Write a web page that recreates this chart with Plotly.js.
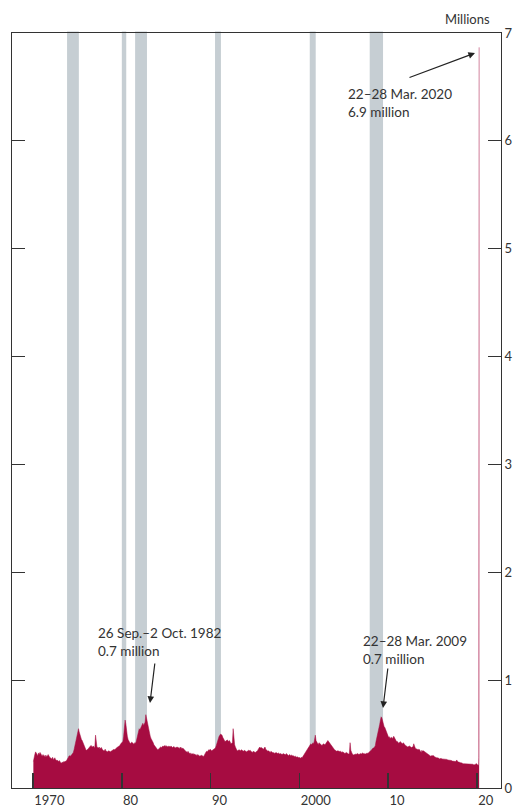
<!DOCTYPE html>
<html>
<head>
<meta charset="utf-8">
<script src="https://cdn.plot.ly/plotly-3.0.1.min.js"></script>
<style>
  html, body { margin: 0; padding: 0; background: #fff; }
  #chart { width: 523px; height: 808px; }
</style>
</head>
<body>
<div id="chart"></div>
<script>
// Weekly initial jobless claims, US (thousands, roughly monthly)
const startYear = 1970;
const claims1970s = [
  245, 300, 310, 335, 320, 315, 300, 325, 310, 330, 320, 305,
  295, 310, 300, 290, 305, 285, 300, 295, 310, 290, 285, 280,
  275, 270, 285, 265, 270, 280, 265, 255, 260, 250, 245, 255,
  240, 235, 230, 240, 235, 245, 240, 250, 245, 255, 260, 280,
  295, 300, 295, 300, 310, 320, 330, 355, 390, 420, 470, 510,
  520, 550, 520, 490, 470, 450, 440, 420, 400, 385, 370, 355,
  350, 355, 365, 370, 380, 385, 395, 385, 380, 390, 375, 370,
  490, 400, 380, 375, 370, 380, 365, 370, 375, 360, 350, 345,
  345, 360, 345, 340, 335, 340, 345, 340, 335, 340, 345, 350,
  355, 360, 355, 365, 370, 375, 380, 385, 390, 395, 410, 415
];
const claims1980s = [
  420, 430, 480, 560, 630, 590, 520, 480, 450, 430, 420, 410,
  420, 425, 420, 410, 405, 420, 415, 430, 460, 500, 530, 550,
  540, 560, 580, 590, 600, 580, 590, 610, 680, 640, 620, 580,
  530, 500, 480, 460, 440, 430, 420, 400, 390, 380, 370, 360,
  355, 360, 365, 370, 380, 375, 380, 390, 385, 390, 395, 385,
  390, 385, 380, 390, 385, 380, 390, 380, 375, 380, 385, 375,
  370, 380, 375, 380, 370, 375, 365, 380, 370, 365, 370, 360,
  350, 345, 340, 335, 330, 340, 330, 320, 325, 310, 320, 315,
  320, 310, 315, 305, 310, 300, 310, 305, 300, 295, 300, 305,
  295, 300, 290, 310, 320, 330, 340, 335, 345, 355, 350, 360
];
const claims1990s = [
  350, 345, 350, 355, 360, 365, 370, 390, 420, 450, 470, 480,
  490, 500, 495, 490, 470, 450, 440, 430, 435, 440, 445, 440,
  430, 440, 420, 410, 415, 420, 550, 410, 400, 380, 360, 350,
  345, 350, 355, 350, 345, 355, 350, 345, 340, 350, 345, 335,
  335, 340, 345, 350, 345, 350, 340, 335, 330, 340, 335, 330,
  330, 335, 340, 345, 360, 375, 380, 370, 375, 370, 365, 360,
  370, 380, 360, 350, 345, 340, 345, 335, 330, 340, 335, 330,
  325, 330, 320, 325, 330, 325, 320, 325, 320, 315, 320, 315,
  310, 315, 320, 310, 315, 305, 320, 310, 305, 300, 310, 305,
  300, 305, 300, 295, 300, 290, 295, 290, 285, 290, 280, 285
];
const claims2000s = [
  280, 275, 285, 280, 290, 300, 310, 320, 330, 340, 350, 360,
  380, 390, 400, 410, 400, 410, 420, 410, 470, 490, 440, 420,
  410, 400, 420, 410, 405, 400, 395, 400, 410, 405, 400, 410,
  420, 430, 440, 430, 420, 410, 395, 385, 380, 370, 360, 355,
  350, 345, 340, 345, 340, 345, 335, 340, 335, 330, 335, 330,
  325, 320, 325, 330, 325, 320, 315, 320, 420, 350, 320, 315,
  310, 305, 310, 315, 310, 315, 320, 315, 310, 315, 320, 315,
  320, 325, 320, 315, 320, 315, 320, 325, 320, 330, 335, 340,
  345, 355, 365, 370, 370, 380, 390, 430, 460, 480, 520, 560,
  590, 630, 660, 650, 610, 590, 570, 560, 540, 530, 510, 480
];
const claims2010s = [
  470, 475, 460, 465, 470, 460, 465, 480, 460, 450, 440, 430,
  430, 420, 415, 425, 430, 420, 415, 410, 420, 405, 400, 395,
  390, 385, 380, 385, 390, 385, 380, 375, 380, 380, 410, 385,
  370, 365, 360, 360, 355, 360, 355, 340, 330, 350, 340, 345,
  340, 335, 330, 325, 320, 320, 310, 310, 305, 295, 300, 300,
  295, 300, 290, 285, 285, 280, 280, 280, 275, 270, 275, 275,
  270, 270, 265, 265, 265, 265, 265, 265, 260, 260, 255, 260,
  255, 255, 250, 250, 250, 245, 245, 245, 260, 245, 240, 240,
  235, 235, 235, 230, 230, 225, 225, 225, 220, 220, 225, 225,
  225, 225, 220, 220, 220, 220, 220, 215, 215, 215, 225, 225
];
const claims2020Dates = ["2020-01-15", "2020-02-15", "2020-03-07", "2020-03-14", "2020-03-21", "2020-03-28"];
const claims2020 = [215, 212, 211, 282, 3307, 6867];

const recessionStart = ["1973-11-01", "1980-01-01", "1981-07-01", "1990-07-01", "2001-03-01", "2007-12-01"];
const recessionEnd   = ["1975-03-01", "1980-07-01", "1982-11-01", "1991-03-01", "2001-11-01", "2009-06-01"];

const xTickVals = ["1970-01-01", "1980-01-01", "1990-01-01", "2000-01-01", "2010-01-01", "2020-01-01"];
const xTickText = ["1970", "80", "90", "2000", "10", "20"];
const yTickVals = [0, 1, 2, 3, 4, 5, 6, 7];
const yTickText = ["0", "1", "2", "3", "4", "5", "6", "7"];

const noteTexts = ["26 Sep.–2 Oct. 1982<br>0.7 million", "22–28 Mar. 2009<br>0.7 million", "22–28 Mar. 2020<br>6.9 million"];

// build series
const allMonthly = [].concat(claims1970s, claims1980s, claims1990s, claims2000s, claims2010s);
const xs = [], ys = [];
allMonthly.forEach((v, i) => {
  const yr = startYear + Math.floor(i / 12);
  const mo = (i % 12) + 1;
  xs.push(yr + "-" + String(mo).padStart(2, "0") + "-15");
  ys.push(v / 1000);
});
claims2020Dates.forEach((d, i) => { xs.push(d); ys.push(claims2020[i] / 1000); });

const crimson = "#a60c41";
const ink = "#333333";
const FONT = "Lato, 'Open Sans', sans-serif";

const trace = {
  x: xs, y: ys, type: "scatter", mode: "lines",
  fill: "tozeroy", fillcolor: crimson,
  line: { color: crimson, width: 0.5 },
  hoverinfo: "skip"
};

const shapes = recessionStart.map((s, i) => ({
  type: "rect", xref: "x", yref: "paper",
  x0: s, x1: recessionEnd[i], y0: 0, y1: 1.002,
  fillcolor: "#c6ced3", line: { width: 0 }, layer: "below"
}));

const W = 489, H = 755, L = 12, T = 33;
const px = x => (x - L) / W;
const py = y => (T + H - y) / H;

const annotations = [
  { xref: "paper", yref: "paper", x: px(96), y: py(623), xanchor: "left", yanchor: "top",
    text: noteTexts[0], showarrow: false, align: "left", font: { family: FONT, size: 13.5, color: ink } },
  { xref: "paper", yref: "paper", x: px(361), y: py(631), xanchor: "left", yanchor: "top",
    text: noteTexts[1], showarrow: false, align: "left", font: { family: FONT, size: 13.5, color: ink } },
  { xref: "paper", yref: "paper", x: px(346), y: py(84), xanchor: "left", yanchor: "top",
    text: noteTexts[2], showarrow: false, align: "left", font: { family: FONT, size: 13.5, color: ink } },
  { xref: "paper", yref: "paper", x: px(150), y: py(703), ax: 5, ay: -41, text: "", showarrow: true,
    arrowhead: 2, arrowsize: 1.1, arrowwidth: 1.2, arrowcolor: "#222" },
  { xref: "paper", yref: "paper", x: px(383), y: py(708), ax: 5, ay: -41, text: "", showarrow: true,
    arrowhead: 2, arrowsize: 1.1, arrowwidth: 1.2, arrowcolor: "#222" },
  { xref: "paper", yref: "paper", x: px(475), y: py(53), ax: -67, ay: 25, text: "", showarrow: true,
    arrowhead: 2, arrowsize: 1.1, arrowwidth: 1.2, arrowcolor: "#222" },
  { xref: "paper", yref: "paper", x: px(492), y: py(19), xanchor: "right", yanchor: "middle",
    text: "Millions", showarrow: false, font: { family: FONT, size: 13, color: ink } }
];

const layout = {
  width: 523, height: 808,
  margin: { l: 12, r: 22, t: 33, b: 20 },
  paper_bgcolor: "#fff", plot_bgcolor: "#fff",
  showlegend: false,
  font: { family: FONT, size: 13, color: ink },
  xaxis: {
    type: "date", range: ["1967-08-20", "2022-09-13"],
    tickvals: xTickVals, ticktext: xTickText,
    ticks: "inside", ticklen: 15, tickwidth: 1.5, tickcolor: ink,
    ticklabelposition: "outside right",
    showgrid: false, zeroline: false,
    showline: true, mirror: true, linecolor: ink, linewidth: 1,
    tickfont: { family: FONT, size: 13, color: ink }
  },
  yaxis: {
    range: [0, 7], side: "right",
    tickvals: yTickVals, ticktext: yTickText,
    ticks: "inside", ticklen: 13, tickwidth: 1.2, tickcolor: ink,
    showgrid: false, zeroline: false,
    showline: true, mirror: "ticks", linecolor: ink, linewidth: 1,
    tickfont: { family: FONT, size: 13, color: ink }
  },
  shapes: shapes,
  annotations: annotations
};

Plotly.newPlot("chart", [trace], layout, { displayModeBar: false, staticPlot: true });
</script>
</body>
</html>
